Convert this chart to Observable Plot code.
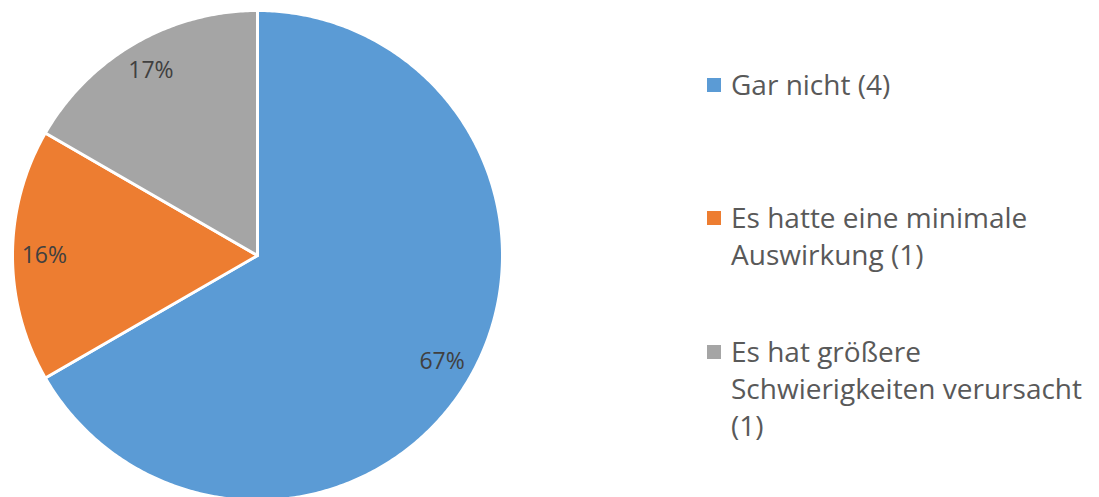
<!DOCTYPE html>
<html>
<head>
<meta charset="utf-8">
<script src="https://cdn.jsdelivr.net/npm/d3@7"></script>
<script src="https://cdn.jsdelivr.net/npm/@observablehq/plot@0.6"></script>
<style>
  html, body { margin: 0; padding: 0; background: #fff; }
  #wrap { position: relative; width: 1099px; height: 497px; overflow: hidden; }
  #legend { position: absolute; left: 707px; top: 0; width: 392px; font-family: "Open Sans", sans-serif; font-size: 28px; color: #595959; line-height: 37px; }
  .item { position: absolute; left: 0; padding-left: 24px; white-space: nowrap; }
  .sw { position: absolute; left: 0; top: 12px; width: 14px; height: 14px; }
</style>
</head>
<body>
<div id="wrap"><div id="chart"></div><div id="legend"></div></div>
<script>
const categories = ["Gar nicht (4)", "Es hatte eine minimale Auswirkung (1)", "Es hat größere Schwierigkeiten verursacht (1)"];
const legendLines = [["Gar nicht (4)"], ["Es hatte eine minimale", "Auswirkung (1)"], ["Es hat größere", "Schwierigkeiten verursacht", "(1)"]];
const counts = [4, 1, 1];
const percentLabels = ["67%", "16%", "17%"];
const colors = ["#5B9BD5", "#ED7D31", "#A5A5A5"];

const W = 1099, H = 497;
const cx = 257, cy = 255, R = 245;

// build slice polygons in unit-circle data space (angles clockwise from 12 o'clock)
const total = d3.sum(counts);
const polys = [];
const labels = [];
let start = 0;
counts.forEach((v, i) => {
  const end = start + v / total * 2 * Math.PI;
  polys.push({cat: categories[i], x: 0, y: 0});
  const n = Math.max(2, Math.ceil((end - start) / 0.01));
  for (let k = 0; k <= n; k++) {
    const a = start + (end - start) * k / n;
    polys.push({cat: categories[i], x: Math.sin(a), y: Math.cos(a)});
  }
  const m = (start + end) / 2;
  labels.push({cat: categories[i], label: percentLabels[i], x: 0.87 * Math.sin(m), y: 0.87 * Math.cos(m)});
  start = end;
});

const chart = Plot.plot({
  width: W, height: H,
  margin: 0,
  x: {domain: [-cx / R, (W - cx) / R], axis: null},
  y: {domain: [-(H - cy) / R, cy / R], axis: null},
  color: {domain: categories, range: colors},
  style: {background: "white"},
  marks: [
    Plot.line(polys, {x: "x", y: "y", z: "cat", fill: "cat", stroke: "white", strokeWidth: 3, strokeLinejoin: "round", curve: "linear-closed"}),
    Plot.text(labels, {x: "x", y: "y", text: "label", fill: "#404040", fontSize: 23, fontFamily: "Open Sans, sans-serif"})
  ]
});
document.getElementById("chart").appendChild(chart);

// legend
const tops = [66, 199, 333];
const leg = document.getElementById("legend");
legendLines.forEach((lines, i) => {
  const d = document.createElement("div");
  d.className = "item";
  d.style.top = tops[i] + "px";
  const sw = document.createElement("div");
  sw.className = "sw";
  sw.style.background = colors[i];
  d.appendChild(sw);
  lines.forEach(t => { const l = document.createElement("div"); l.textContent = t; d.appendChild(l); });
  leg.appendChild(d);
});
</script>
</body>
</html>
